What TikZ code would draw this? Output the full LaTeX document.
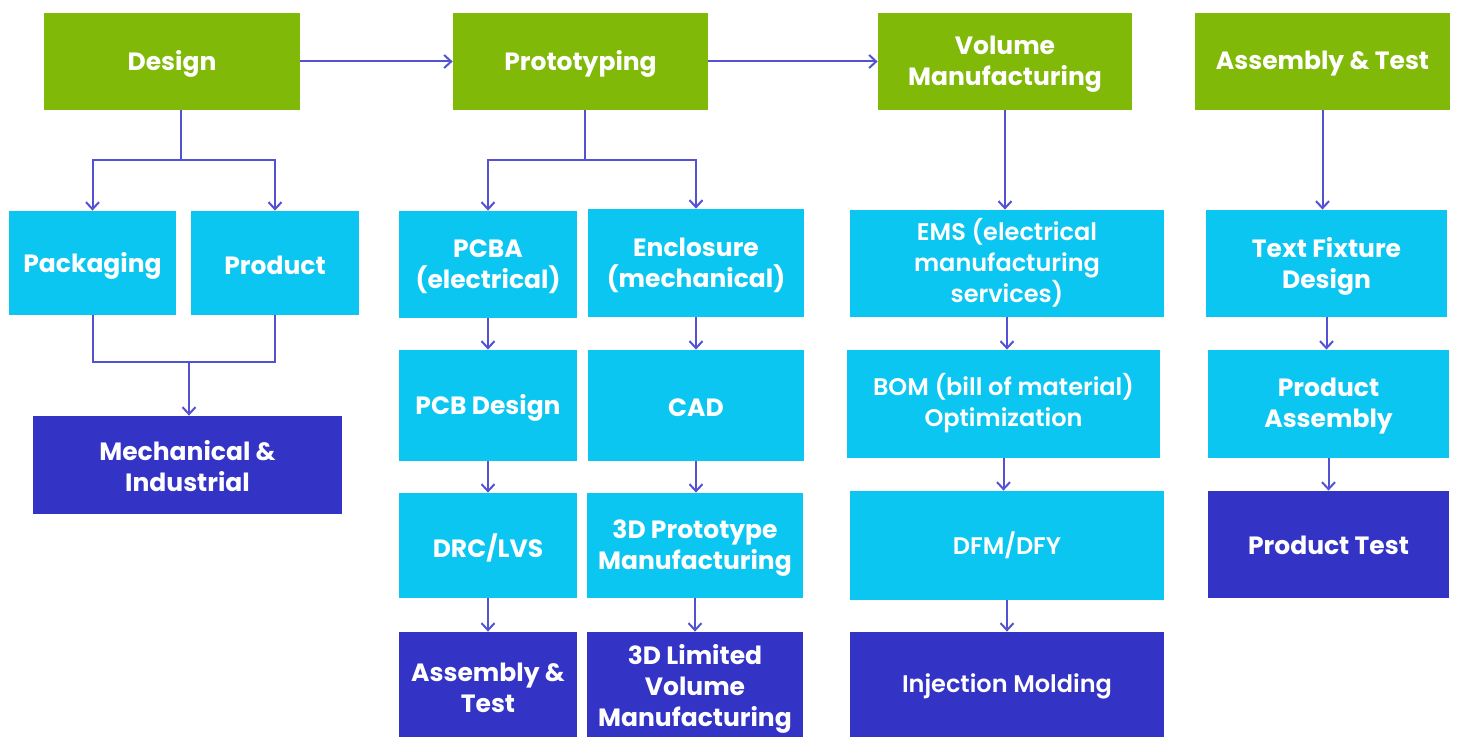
\documentclass[tikz,border=0pt]{standalone}
\usepackage{fontspec}
\setmainfont{Poppins}
\newfontfamily\semib{Poppins SemiBold}
\usetikzlibrary{arrows.meta}
\definecolor{cgreen}{HTML}{80B908}
\definecolor{ccyan}{HTML}{0CC6F2}
\definecolor{cdark}{HTML}{3333C6}
\definecolor{carrow}{HTML}{5252D2}
\tikzset{
  box/.style={inner sep=0pt},
  txt/.style={inner sep=0pt, text=white, align=center, yshift=-1.25pt, font=\bfseries\fontsize{12.5}{15.5}\selectfont},
  semi/.style={yshift=1.5pt, font=\semib\fontsize{12}{15.5}\selectfont},
  green/.style={fill=cgreen},
  cyanb/.style={fill=ccyan},
  dark/.style={fill=cdark},
  conn/.style={draw=carrow, line width=1pt},
  arr/.style={conn, -{Straight Barb[length=3.5pt,width=6.5pt,line width=1pt]}},
}
% \bx{name}{x1}{y1}{x2}{y2}{fill style}{text style}{text}
\newcommand\bx[8]{%
  \node[box,#6,minimum width={(#4-#2)*0.5pt},minimum height={(#5-#3)*0.5pt}] (#1) at ({(#2+#4)/2},{(#3+#5)/2}) {};
  \node[txt,#7] (#1t) at (#1.center) {#8};}
\newcommand\down[2]{\draw[arr] (#1.south) -- (#1.south |- #2.north);}
\begin{document}
\begin{tikzpicture}[x=0.5pt,y=-0.5pt]
\useasboundingbox[fill=white] (0,0) rectangle (1461,737);
% top row
\bx{design}{44}{13}{300}{110}{green}{}{Design}
\bx{proto}{453}{13}{708}{110}{green}{}{Prototyping}
\bx{vol}{878}{13}{1132}{110}{green}{}{Volume\\Manufacturing}
\bx{at}{1195}{13}{1450}{110}{green}{}{Assembly \& Test}
% design column
\bx{pack}{9}{211}{176}{315}{cyanb}{}{Packaging}
\bx{prod}{191}{211}{359}{315}{cyanb}{}{Product}
\bx{mech}{33}{416}{342}{514}{dark}{yshift=0.75pt}{Mechanical \&\\Industrial}
% prototyping column
\bx{pcba}{399}{211}{577}{318}{cyanb}{}{PCBA\\(electrical)}
\bx{encl}{588}{209}{804}{317}{cyanb}{}{Enclosure\\(mechanical)}
\bx{pcbd}{399}{350}{577}{461}{cyanb}{}{PCB Design}
\bx{cad}{588}{350}{804}{461}{cyanb}{}{CAD}
\bx{drc}{399}{493}{577}{598}{cyanb}{}{DRC/LVS}
\bx{p3d}{587}{493}{803}{598}{cyanb}{}{3D Prototype\\Manufacturing}
\bx{asm}{399}{632}{577}{741}{dark}{yshift=0.75pt}{Assembly \&\\Test}
\bx{lim}{587}{632}{803}{741}{dark}{}{3D Limited\\Volume\\Manufacturing}
% volume column
\bx{ems}{850}{210}{1164}{317}{cyanb}{semi}{EMS (electrical\\manufacturing\\services)}
\bx{bom}{847}{350}{1160}{458}{cyanb}{semi}{BOM (bill of material)\\Optimization}
\bx{dfm}{850}{491}{1164}{600}{cyanb}{semi}{DFM/DFY}
\bx{inj}{850}{632}{1164}{741}{dark}{semi}{Injection Molding}
% assembly column
\bx{tfd}{1206}{210}{1447}{317}{cyanb}{}{Text Fixture\\Design}
\bx{pa}{1208}{350}{1449}{458}{cyanb}{}{Product\\Assembly}
\bx{pt}{1208}{491}{1449}{598}{dark}{yshift=0.75pt}{Product Test}
% horizontal flow
\draw[arr] (design.east) -- (proto.west);
\draw[arr] (proto.east) -- (vol.west);
% design fork
\coordinate (dj) at (181,160);
\draw[conn] (dj |- design.south) -- (dj);
\draw[arr] (dj) -| (pack.north);
\draw[arr] (dj) -| (prod.north);
% merge
\coordinate (mj) at (189,362);
\draw[conn] (pack.south) -- (pack.south |- mj) -- (prod.south |- mj) -- (prod.south);
\draw[arr] (mj) -- (mj |- mech.north);
% prototyping fork
\coordinate (pj) at (585,160);
\draw[conn] (pj |- proto.south) -- (pj);
\draw[arr] (pj) -| (pcba.north);
\draw[arr] (pj) -| (encl.north);
\down{pcba}{pcbd}
\down{pcbd}{drc}
\down{drc}{asm}
\down{encl}{cad}
\down{cad}{p3d}
\down{p3d}{lim}
% volume
\down{vol}{ems}
\down{ems}{bom}
\down{bom}{dfm}
\down{dfm}{inj}
% assembly
\down{at}{tfd}
\down{tfd}{pa}
\down{pa}{pt}
\end{tikzpicture}
\end{document}
